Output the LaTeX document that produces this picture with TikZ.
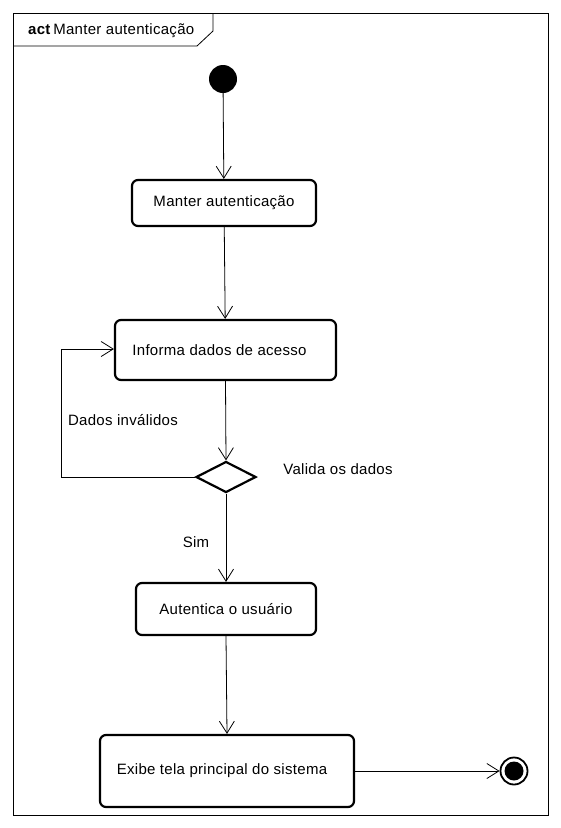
\documentclass[tikz,border=0pt]{standalone}
\usepackage{fontspec}
\setmainfont{Liberation Sans}[LetterSpace=2]
\usetikzlibrary{arrows.meta,shapes.geometric}
\begin{document}
\begin{tikzpicture}[x=1pt,y=-1pt,
  font=\fontsize{15}{17}\selectfont,
  action/.style={draw,line width=2.2pt,rounded corners=6pt,inner sep=0pt},
  flow/.style={line width=0.8pt,-{Straight Barb[length=12pt,width=15pt,line width=0.8pt]}},
  plain/.style={line width=0.8pt},
  lbl/.style={inner sep=0pt,anchor=center}]
\useasboundingbox (0,0) rectangle (561,828);
% frame
\draw[plain] (13,13) rectangle (548,815);
\draw[plain] (13,46) -- (197,46) -- (213,31) -- (213,13);
\node[lbl,anchor=west] (title) at (28,31) {\textbf{act}\,Manter autenticação};
% nodes
\node[circle,fill=black,minimum size=28pt,inner sep=0pt] (init) at (223,79) {};
\node[action,minimum width=184pt,minimum height=46pt] (a1) at (224,203) {Manter autenticação};
\node[action,minimum width=221pt,minimum height=60pt] (a2) at (225.5,350) {\hspace*{-12pt}Informa dados de acesso};
\node[diamond,draw,line width=2.2pt,minimum width=60pt,minimum height=31pt,inner sep=0pt] (dec) at (226,477) {};
\node[action,minimum width=180pt,minimum height=52pt] (a3) at (226,609) {Autentica o usuário};
\node[action,minimum width=254pt,minimum height=72pt] (a4) at (227,771) {\hspace*{-10pt}Exibe tela principal do sistema};
\node[circle,draw,line width=1.8pt,minimum size=27pt,inner sep=0pt] (fin) at (514,771) {};
\node[circle,fill=black,minimum size=19pt,inner sep=0pt] (fininner) at (fin.center) {};
% labels
\node[lbl] (lvalida) at (338,469) {Valida os dados};
\node[lbl] (ldados) at (123,420) {Dados inválidos};
\node[lbl] (lsim) at (196,542) {Sim};
% edges
\coordinate (c1) at (61,477);
\coordinate (c2) at (61,349);
\draw[flow] (init) -- (a1);
\draw[flow] (a1) -- (a2);
\draw[flow] (a2.south) -- (dec.north);
\draw[flow] (dec.west) -- (c1) -- (c2) -- (a2.west |- c2);
\draw[flow] (dec.south) -- (a3.north);
\draw[flow] (a3.south) -- (a4.north);
\draw[flow] (a4.east) -- (fin.west);
\end{tikzpicture}
\end{document}
